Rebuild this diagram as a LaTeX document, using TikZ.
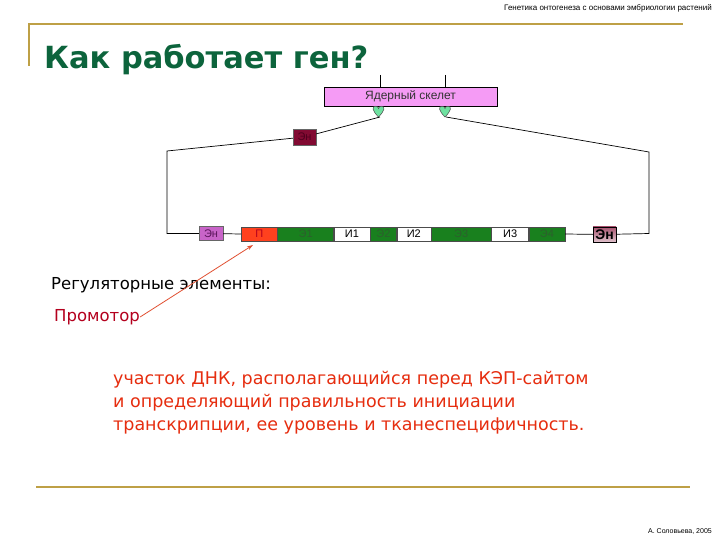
\documentclass[tikz,border=0pt]{standalone}
\usepackage{fontspec}
\setmainfont{DejaVu Sans}
\newfontfamily\arialf{Liberation Sans}
\usetikzlibrary{arrows.meta}
\definecolor{goldline}{RGB}{190,160,70}
\definecolor{titlegreen}{RGB}{12,100,60}
\definecolor{skpink}{RGB}{245,155,245}
\definecolor{heartgreen}{RGB}{110,225,160}
\definecolor{enmaroon}{RGB}{130,10,50}
\definecolor{enmaroontext}{RGB}{80,0,30}
\definecolor{enpurple}{RGB}{200,100,200}
\definecolor{enpurpletext}{RGB}{90,20,90}
\definecolor{promred}{RGB}{255,65,30}
\definecolor{exgreen}{RGB}{25,128,30}
\definecolor{exgreentext}{RGB}{45,95,45}
\definecolor{arrowred}{RGB}{225,80,50}
\definecolor{promtext}{RGB}{180,0,30}
\definecolor{parared}{RGB}{230,45,15}
\tikzset{
  seg/.style={draw=black!70, line width=0.4pt, minimum height=14pt, inner sep=0pt, anchor=west, font=\arialf\fontsize{11}{11}\selectfont},
  exon/.style={seg, fill=exgreen, text=exgreentext},
  intron/.style={seg, fill=white, text=black},
  wire/.style={draw=black, line width=0.7pt},
  enbox/.style={draw=black!60, inner sep=0pt, minimum height=14pt, minimum width=24pt, font=\arialf\fontsize{11}{11}\selectfont},
  heartpic/.pic={\path[draw=black!70, fill=heartgreen, line width=0.5pt, scale=1.2] (0,5) .. controls (-5,0) and (-6,-4) .. (-2.5,-4) .. controls (-1,-4) and (0,-3) .. (0,-2) .. controls (0,-3) and (1,-4) .. (2.5,-4) .. controls (6,-4) and (5,0) .. (0,5) -- cycle;}
}
\begin{document}
\begin{tikzpicture}[x=1pt,y=-1pt]
\useasboundingbox[fill=white] (0,0) rectangle (720,540);
% header
\node[anchor=base east, font=\arialf\fontsize{8}{8}\selectfont, inner sep=0pt] (hdr) at (712,11) {Генетика онтогенеза с основами эмбриологии растений};
\draw[goldline, line width=2pt] (29,66) -- (29,24) -- (683,24);
\node[anchor=base west, inner sep=0pt, text=titlegreen, font=\bfseries\fontsize{30.5}{31}\selectfont] (title) at (44,69) {Как работает ген?};
% nuclear skeleton
\node[draw=black, line width=0.6pt, fill=skpink, minimum width=173pt, minimum height=19pt, inner sep=0pt, font=\arialf\fontsize{12}{12}\selectfont, text=black!80] (sk) at (410.5,96.5) {Ядерный скелет};
\coordinate (t1) at (380,75);
\coordinate (t2) at (445,75);
\draw[wire] (t1) -- (t1 |- sk.north);
\draw[wire] (t2) -- (t2 |- sk.north);
\pic at (378.5,111) {heartpic};
\pic at (445,111) {heartpic};
\coordinate (h1) at (380,117);
\coordinate (h2) at (446,117);
% upper enhancer
\node[enbox, fill=enmaroon, text=enmaroontext, minimum height=16pt, minimum width=23pt] (enT) at (304.5,137) {Эн};
\coordinate (c1) at (167,151);
\coordinate (c2) at (167,233.5);
% left enhancer
\node[enbox, fill=enpurple, text=enpurpletext] (enL) at (211,233.5) {Эн};
% gene
\node[seg, fill=promred, text=promtext, minimum width=36pt] (p) at (241,234) {П};
\node[exon, minimum width=56pt] (e1) at (p.east) {Э1};
\node[intron, minimum width=36pt] (i1) at (e1.east) {И1};
\node[exon, minimum width=26pt] (e2) at (i1.east) {Э2};
\node[intron, minimum width=34pt] (i2) at (e2.east) {И2};
\node[exon, minimum width=60pt] (e3) at (i2.east) {Э3};
\node[intron, minimum width=37pt] (i3) at (e3.east) {И3};
\node[exon, minimum width=36pt] (e4) at (i3.east) {Э4};
% right enhancer
\node[enbox, top color=enmaroon!70!white, bottom color=enmaroon!25!white, draw=black, text=black, minimum height=15pt, minimum width=23pt, font=\arialf\bfseries\fontsize{14}{14}\selectfont] (enR) at (604.5,234.5) {Эн};
\coordinate (c3) at (649,233.5);
\coordinate (c4) at (649,152);
% wires
\draw[wire] (h1) -- (enT) -- (c1) -- (c2) -- (enL) -- (p.west);
\draw[wire] (e4.east) -- (enR) -- (c3) -- (c4) -- (h2);
% texts
\node[anchor=west, inner sep=0pt, font=\fontsize{16.5}{16.5}\selectfont] (reg) at (51,285) {Регуляторные элементы:};
\node[anchor=west, inner sep=0pt, text=promtext, font=\fontsize{16.5}{16.5}\selectfont] (prom) at (54,317) {Промотор};
\coordinate (ptip) at (253,245);
\draw[arrowred, line width=0.8pt, -{Stealth[length=6pt,width=4pt]}] (prom.east) -- (ptip);
\node[anchor=north west, inner sep=0pt, align=left, text=parared, font=\fontsize{17.5}{23}\selectfont] (para) at (113,371) {участок ДНК, располагающийся перед КЭП-сайтом\\и определяющий правильность инициации\\транскрипции, ее уровень и тканеспецифичность.};
\draw[goldline, line width=2pt] (36,487) -- (690,487);
\node[anchor=base east, inner sep=0pt, font=\arialf\fontsize{7}{7}\selectfont] (auth) at (712,533) {А. Соловьева, 2005};
\end{tikzpicture}
\end{document}
